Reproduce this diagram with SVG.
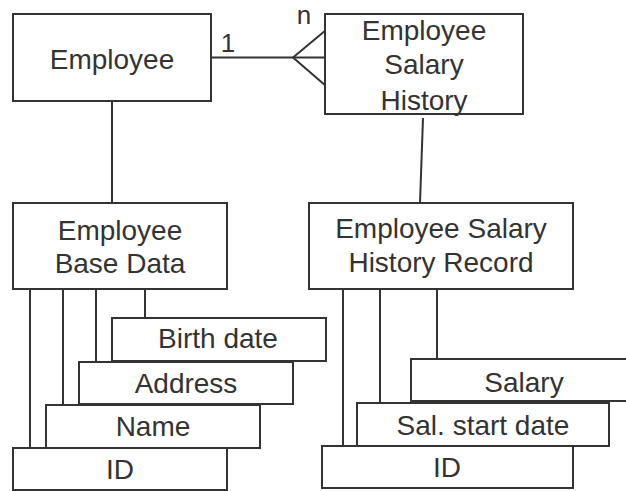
<svg xmlns="http://www.w3.org/2000/svg" width="626" height="491" viewBox="0 0 626 491">
  <style>
    .box { fill: #ffffff; stroke: #333333; stroke-width: 2; }
    .link { fill: none; stroke: #333333; stroke-width: 2; }
    text { font-family: "Liberation Sans", Arial, sans-serif; font-size: 28px; fill: #333333; text-anchor: middle; }
    .card { font-size: 26px; }
  </style>
  <rect width="626" height="491" fill="#ffffff"/>

  <!-- connectors -->
  <g id="connectors">
    <path class="link" d="M211 57.5 H326"/>
    <path class="link" d="M326 30 L293 57.5 L326 86"/>
    <path class="link" d="M112 101 V203"/>
    <path class="link" d="M423 118 L420 203"/>
    <!-- base data attributes -->
    <path class="link" d="M30 289 V448"/>
    <path class="link" d="M63 289 V405"/>
    <path class="link" d="M96 289 V362"/>
    <path class="link" d="M145 289 V318"/>
    <!-- salary record attributes -->
    <path class="link" d="M343 289 V446"/>
    <path class="link" d="M380 289 V403"/>
    <path class="link" d="M437 289 V359"/>
    <text class="card" x="228" y="52">1</text>
    <text class="card" x="304" y="24">n</text>
  </g>

  <g id="employee">
    <rect class="box" x="13" y="14" width="198" height="87"/>
    <text x="112" y="69">Employee</text>
  </g>

  <g id="salary-history">
    <rect class="box" x="325" y="14" width="198" height="100"/>
    <text x="424" y="40">Employee</text>
    <text x="424" y="74">Salary</text>
    <text x="424" y="110">History</text>
  </g>

  <g id="base-data">
    <rect class="box" x="13" y="203" width="214" height="86"/>
    <text x="120" y="240">Employee</text>
    <text x="120" y="273">Base Data</text>
  </g>

  <g id="salary-record">
    <rect class="box" x="309" y="203" width="264" height="86"/>
    <text x="441" y="238">Employee Salary</text>
    <text x="441" y="272">History Record</text>
  </g>

  <g id="birth-date">
    <rect class="box" x="112" y="318" width="214" height="43"/>
    <text x="218" y="348">Birth date</text>
  </g>
  <g id="address">
    <rect class="box" x="79" y="362" width="214" height="42"/>
    <text x="186" y="393">Address</text>
  </g>
  <g id="name">
    <rect class="box" x="46" y="405" width="214" height="43"/>
    <text x="153" y="436">Name</text>
  </g>
  <g id="id-base">
    <rect class="box" x="13" y="448" width="214" height="42"/>
    <text x="120" y="479">ID</text>
  </g>

  <g id="salary">
    <rect class="box" x="411" y="359" width="220" height="42"/>
    <text x="524" y="392">Salary</text>
  </g>
  <g id="sal-start-date">
    <rect class="box" x="357" y="403" width="252" height="43"/>
    <text x="483" y="435">Sal. start date</text>
  </g>
  <g id="id-record">
    <rect class="box" x="322" y="446" width="251" height="42"/>
    <text x="447" y="477">ID</text>
  </g>
</svg>
